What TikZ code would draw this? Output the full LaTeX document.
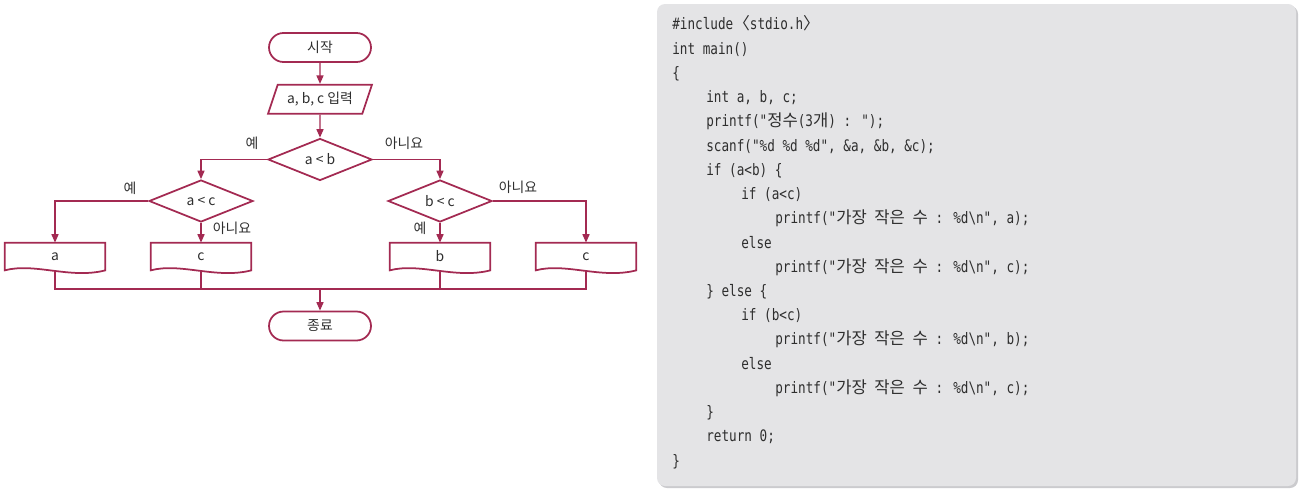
\documentclass[tikz,border=0pt]{standalone}
\usepackage{fontspec}
\setmainfont{Noto Sans CJK KR}
\newfontfamily\codefont[FakeStretch=0.8]{DejaVu Sans Mono}
\newfontfamily\codekr[Scale=1.05]{Noto Sans CJK KR}
\usetikzlibrary{positioning, shapes.geometric, arrows.meta, calc}

\definecolor{flowred}{HTML}{A32A52}
\definecolor{codebg}{HTML}{E4E4E6}
\definecolor{codeshadow}{HTML}{CBCBCE}
\definecolor{inktext}{HTML}{2E2E2E}

\newcommand{\kr}[1]{{\codekr #1}}

\begin{document}
\begin{tikzpicture}[x=0.02cm, y=-0.02cm, font=\fontsize{7.9}{9}\selectfont, text=inktext]

% Define styles
\tikzstyle{terminal} = [rectangle, rounded corners=0.29cm, minimum width=2.04cm, minimum height=0.58cm, draw=flowred, line width=1pt]
\tikzstyle{io} = [trapezium, trapezium left angle=71, trapezium right angle=109, trapezium stretches=true, minimum width=2.08cm, minimum height=0.58cm, draw=flowred, line width=1pt]
\tikzstyle{decision} = [diamond, minimum width=2.08cm, minimum height=0.84cm, inner sep=0pt, draw=flowred, line width=1pt]
\tikzstyle{docbox} = [rectangle, minimum width=2cm, minimum height=0.54cm, inner sep=0pt]
\tikzstyle{arrow} = [flowred, line width=0.75pt, -{Triangle[length=4.8pt, width=4pt]}]
\tikzstyle{line} = [flowred, line width=0.6pt]
\tikzstyle{yesno} = [inner sep=0pt]
\tikzstyle{codeline} = [anchor=base west, inner sep=0pt, font=\codefont\fontsize{9}{11}\selectfont]

\useasboundingbox (0,0) rectangle (1300,490);

% Flowchart
\node[terminal] (start) at (320,47.5) {시작};
\node[io, below=0.42cm of start] (input) {a, b, c 입력};
\node[decision, below=0.46cm of input] (ab) {a < b};
\node[decision] (ac) at (201,201) {a < c};
\node[decision] (bc) at (440,201) {b < c};

% Outputs
\node[docbox] (outa) at (55,256.5) {a};
\node[docbox] (outc1) at (201,256.5) {c};
\node[docbox] (outb) at (440,256.5) {b};
\node[docbox] (outc2) at (586,256.5) {c};
\foreach \n in {outa, outc1, outb, outc2}
  \draw[flowred, line width=1pt] (\n.south west) -- (\n.north west) -- (\n.north east) -- (\n.south east)
    .. controls ($(\n.south east)+(-35,9)$) and ($(\n.south west)+(30,-8)$) .. (\n.south west) -- cycle;

\node[terminal] (end) at (320,326) {종료};

% Arrows
\draw[arrow] (start) -- (input);
\draw[arrow] (input) -- (ab);
\draw[arrow] (ab.west) -| (ac.north);
\draw[arrow] (ab.east) -| (bc.north);
\draw[arrow] (ac.west) -| (outa.north);
\draw[arrow] (ac.south) -- (outc1.north);
\draw[arrow] (bc.south) -- (outb.north);
\draw[arrow] (bc.east) -| (outc2.north);

% Merge
\coordinate (join) at (320,289);
\draw[line] (outa.south) |- (join);
\draw[line] (outc2.south) |- (join);
\draw[line] (outc1.south) -- (outc1.south |- join);
\draw[line] (outb.south) -- (outb.south |- join);
\draw[arrow] (join) -- (end);

% Labels
\node[yesno] at (252,143) {예};
\node[yesno] at (404,143) {아니요};
\node[yesno] at (130,188) {예};
\node[yesno] at (232,228) {아니요};
\node[yesno] at (420,228) {예};
\node[yesno] at (518,187) {아니요};

% Code panel
\fill[codeshadow, rounded corners=0.16cm] (659,6) rectangle (1298,488);
\fill[codebg, rounded corners=0.16cm] (657,4) rectangle (1296,486);

\node[codeline] (l1) at (672,30) {\#include\kr{〈}stdio.h\kr{〉}};
\node[codeline] (l2) at (672,54.2) {int main()};
\node[codeline] (l3) at (672,78.4) {\{};
\node[codeline] (l4) at (706,102.7) {int a, b, c;};
\node[codeline] (l5) at (706,126.9) {printf("\kr{정수}(3\kr{개}) : ");};
\node[codeline] (l6) at (706,151.1) {scanf("\%d \%d \%d", \&a, \&b, \&c);};
\node[codeline] (l7) at (706,175.3) {if (a<b) \{};
\node[codeline] (l8) at (741,199.5) {if (a<c)};
\node[codeline] (l9) at (775,223.8) {printf("\kr{가장} \kr{작은} \kr{수} : \%d\textbackslash n", a);};
\node[codeline] (l10) at (741,248) {else};
\node[codeline] (l11) at (775,272.2) {printf("\kr{가장} \kr{작은} \kr{수} : \%d\textbackslash n", c);};
\node[codeline] (l12) at (706,296.4) {\} else \{};
\node[codeline] (l13) at (741,320.6) {if (b<c)};
\node[codeline] (l14) at (775,344.9) {printf("\kr{가장} \kr{작은} \kr{수} : \%d\textbackslash n", b);};
\node[codeline] (l15) at (741,369.1) {else};
\node[codeline] (l16) at (775,393.3) {printf("\kr{가장} \kr{작은} \kr{수} : \%d\textbackslash n", c);};
\node[codeline] (l17) at (706,417.5) {\}};
\node[codeline] (l18) at (706,441.7) {return 0;};
\node[codeline] (l19) at (672,466) {\}};

\end{tikzpicture}
\end{document}
